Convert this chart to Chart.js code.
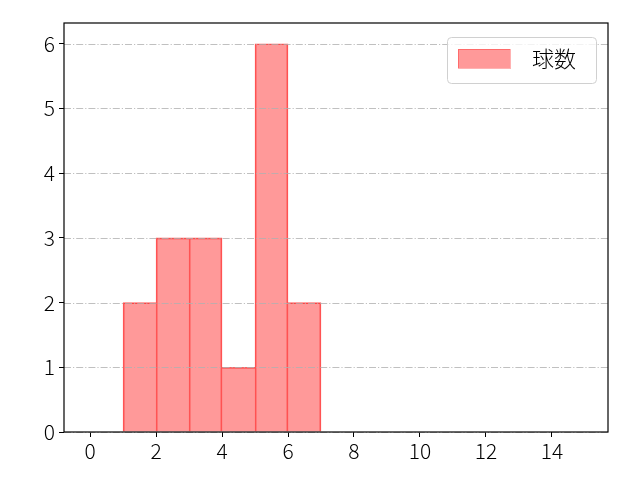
<!DOCTYPE html>
<html>
<head>
<meta charset="utf-8">
<script src="https://cdn.jsdelivr.net/npm/chart.js@4/dist/chart.umd.min.js"></script>
<style>
  html, body { margin: 0; padding: 0; background: #fff; }
  #wrap { width: 640px; height: 480px; }
</style>
</head>
<body>
<div id="wrap"><canvas id="myChart" width="640" height="480"></canvas></div>
<script>
// histogram data
const binEdges = [1, 2, 3, 4, 5, 6, 7];
const counts = [2, 3, 3, 1, 6, 2];
const xTicks = [0, 2, 4, 6, 8, 10, 12, 14];
const yTicks = [0, 1, 2, 3, 4, 5, 6];
const seriesLabel = "球数";

const FILL = "rgba(255, 0, 0, 0.4)";
const EDGE = "rgb(255, 95, 95)";
const TICK_FONT = { family: "'Noto Sans CJK JP', sans-serif", size: 21, weight: "300" };

const points = counts.map((c, i) => ({ x: (binEdges[i] + binEdges[i + 1]) / 2, y: c }));

// one edge line between neighbouring bars, like matplotlib
function edgeWidth(c) {
  const i = c.dataIndex;
  const cur = counts[i], prev = counts[i - 1], next = counts[i + 1];
  return {
    top: 1,
    bottom: 0,
    left: prev === undefined || prev <= cur ? 1 : 0,
    right: next === undefined || next < cur ? 1 : 0
  };
}

// dash-dot y grid on top of bars, box frame and a matplotlib style legend
const overlay = {
  id: "overlay",
  afterDatasetsDraw(chart) {
    const { ctx, chartArea: a, scales } = chart;
    ctx.save();
    ctx.strokeStyle = "#b0b0b0";
    ctx.lineWidth = 0.8;
    ctx.setLineDash([7, 2, 1.2, 2]);
    yTicks.forEach((v) => {
      const y = Math.round(scales.y.getPixelForValue(v)) + 0.5;
      ctx.beginPath();
      ctx.moveTo(a.left, y);
      ctx.lineTo(a.right, y);
      ctx.stroke();
    });
    ctx.restore();
  },
  afterDraw(chart) {
    const { ctx, chartArea: a } = chart;
    ctx.save();
    ctx.strokeStyle = "#000";
    ctx.lineWidth = 1.2;
    ctx.strokeRect(a.left, a.top, a.right - a.left, a.bottom - a.top);

    // legend
    const lx = 447, ly = 37, lw = 149, lh = 46, r = 4;
    ctx.fillStyle = "rgba(255,255,255,0.8)";
    ctx.strokeStyle = "#d0d0d0";
    ctx.lineWidth = 1;
    ctx.beginPath();
    ctx.roundRect(lx + 0.5, ly + 0.5, lw, lh, r);
    ctx.fill();
    ctx.stroke();
    ctx.fillStyle = FILL;
    ctx.fillRect(458, 49, 52, 19);
    ctx.strokeStyle = "rgba(255, 0, 0, 0.3)";
    ctx.strokeRect(458.5, 49.5, 52, 19);
    ctx.fillStyle = "#000";
    ctx.font = "300 22px 'Noto Sans CJK JP'";
    ctx.textBaseline = "middle";
    ctx.fillText(chart.data.datasets[0].label, 532, 59);
    ctx.restore();
  }
};

const ctx = document.getElementById("myChart").getContext("2d");
const myChart = new Chart(ctx, {
  type: "bar",
  data: {
    datasets: [{
      label: seriesLabel,
      data: points,
      backgroundColor: FILL,
      borderColor: EDGE,
      borderWidth: edgeWidth,
      borderSkipped: false,
      barPercentage: 1,
      categoryPercentage: 1,
      grouped: false
    }]
  },
  options: {
    responsive: false,
    animation: false,
    layout: { padding: { top: 23, right: 32, left: 0, bottom: 0 } },
    plugins: { legend: { display: false }, tooltip: { enabled: false } },
    scales: {
      x: {
        type: "linear",
        offset: false,
        min: -0.79,
        max: 15.7,
        afterBuildTicks: (s) => { s.ticks = xTicks.map((v) => ({ value: v })); },
        afterFit: (s) => { s.height = 48; },
        grid: { offset: false, drawOnChartArea: false, tickLength: 5, tickColor: "#000", tickWidth: 1 },
        border: { display: false },
        ticks: { color: "#000", font: TICK_FONT, padding: 1, maxRotation: 0, autoSkip: false }
      },
      y: {
        type: "linear",
        min: 0,
        max: 6.32,
        afterBuildTicks: (s) => { s.ticks = yTicks.map((v) => ({ value: v })); },
        afterFit: (s) => { s.width = 64; },
        grid: { drawOnChartArea: false, tickLength: 5, tickColor: "#000", tickWidth: 1 },
        border: { display: false },
        ticks: { color: "#000", font: TICK_FONT, padding: 4 }
      }
    }
  },
  plugins: [overlay]
});
</script>
</body>
</html>
